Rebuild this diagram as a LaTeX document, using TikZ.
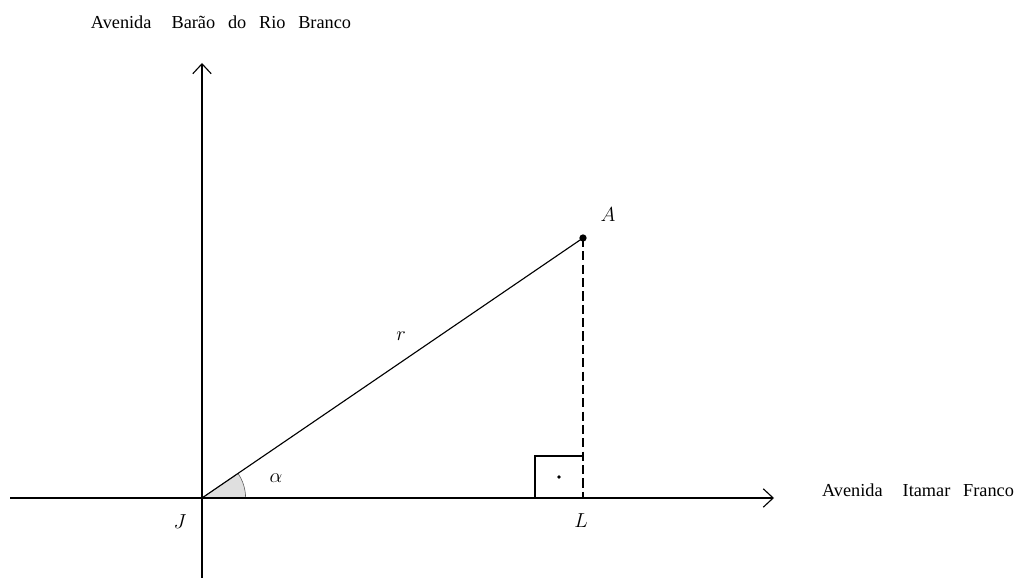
\documentclass[tikz,border=0pt]{standalone}
\usepackage{fontspec}
\setmainfont{Liberation Serif}
\usetikzlibrary{arrows.meta}
\usetikzlibrary{positioning}

\tikzset{
  eixo/.style={-{Straight Barb[length=7pt,width=13pt]}, line width=0.8pt},
  rua/.style={font=\fontsize{13}{15}\selectfont, inner sep=0pt},
  rotulo/.style={font=\fontsize{14.5}{17}\selectfont, inner sep=1pt},
}

\begin{document}
\begin{tikzpicture}
  \useasboundingbox (0,0) rectangle (25.375,14.525);

  % 点
  \coordinate (J) at (5.05,2.075);
  \coordinate (A) at (14.575,8.575);
  \coordinate (L) at (14.575,2.075);
  \coordinate (oeste) at (0.25,2.075);
  \coordinate (leste) at (19.35,2.075);
  \coordinate (sul) at (5.05,0.075);
  \coordinate (norte) at (5.05,12.95);

  % 角
  \filldraw[fill=gray!25, draw=gray!70!black, line width=0.4pt]
    (J) -- ++(1.09,0) arc[start angle=0, end angle=34.3, radius=1.09] -- cycle;

  % 軸
  \draw[eixo] (oeste) -- (leste);
  \draw[eixo] (sul) -- (norte);

  % 線分
  \draw[line width=0.8pt] (J) -- (A);
  \draw[line width=0.8pt, dash pattern=on 6.5pt off 3pt] (A) -- (L);
  \draw[line width=0.8pt] (L) ++(0,1.05) -| ++(-1.2,-1.05);
  \fill (13.975,2.6) circle[radius=1.3pt];
  \fill (A) circle[radius=2.6pt];

  % ラベル
  \node[rotulo] (rA) at (15.2,9.15) {$A$};
  \node[rotulo] (rJ) at (4.5,1.475) {$J$};
  \node[rotulo] (rL) at (14.525,1.5) {$L$};
  \node[rotulo] (rr) at (10.025,6.125) {$r$};
  \node[rotulo] (ralfa) at (6.9,2.575) {$\alpha$};

  % 通り
  \node[rua] (barao) at (5.525,13.975)
    {Avenida\hspace{1.1em}Barão\hspace{0.7em}do\hspace{0.7em}Rio\hspace{0.7em}Branco};
  \node[rua] (itamar) at (22.95,2.275)
    {Avenida\hspace{1.1em}Itamar\hspace{0.7em}Franco};
\end{tikzpicture}
\end{document}
